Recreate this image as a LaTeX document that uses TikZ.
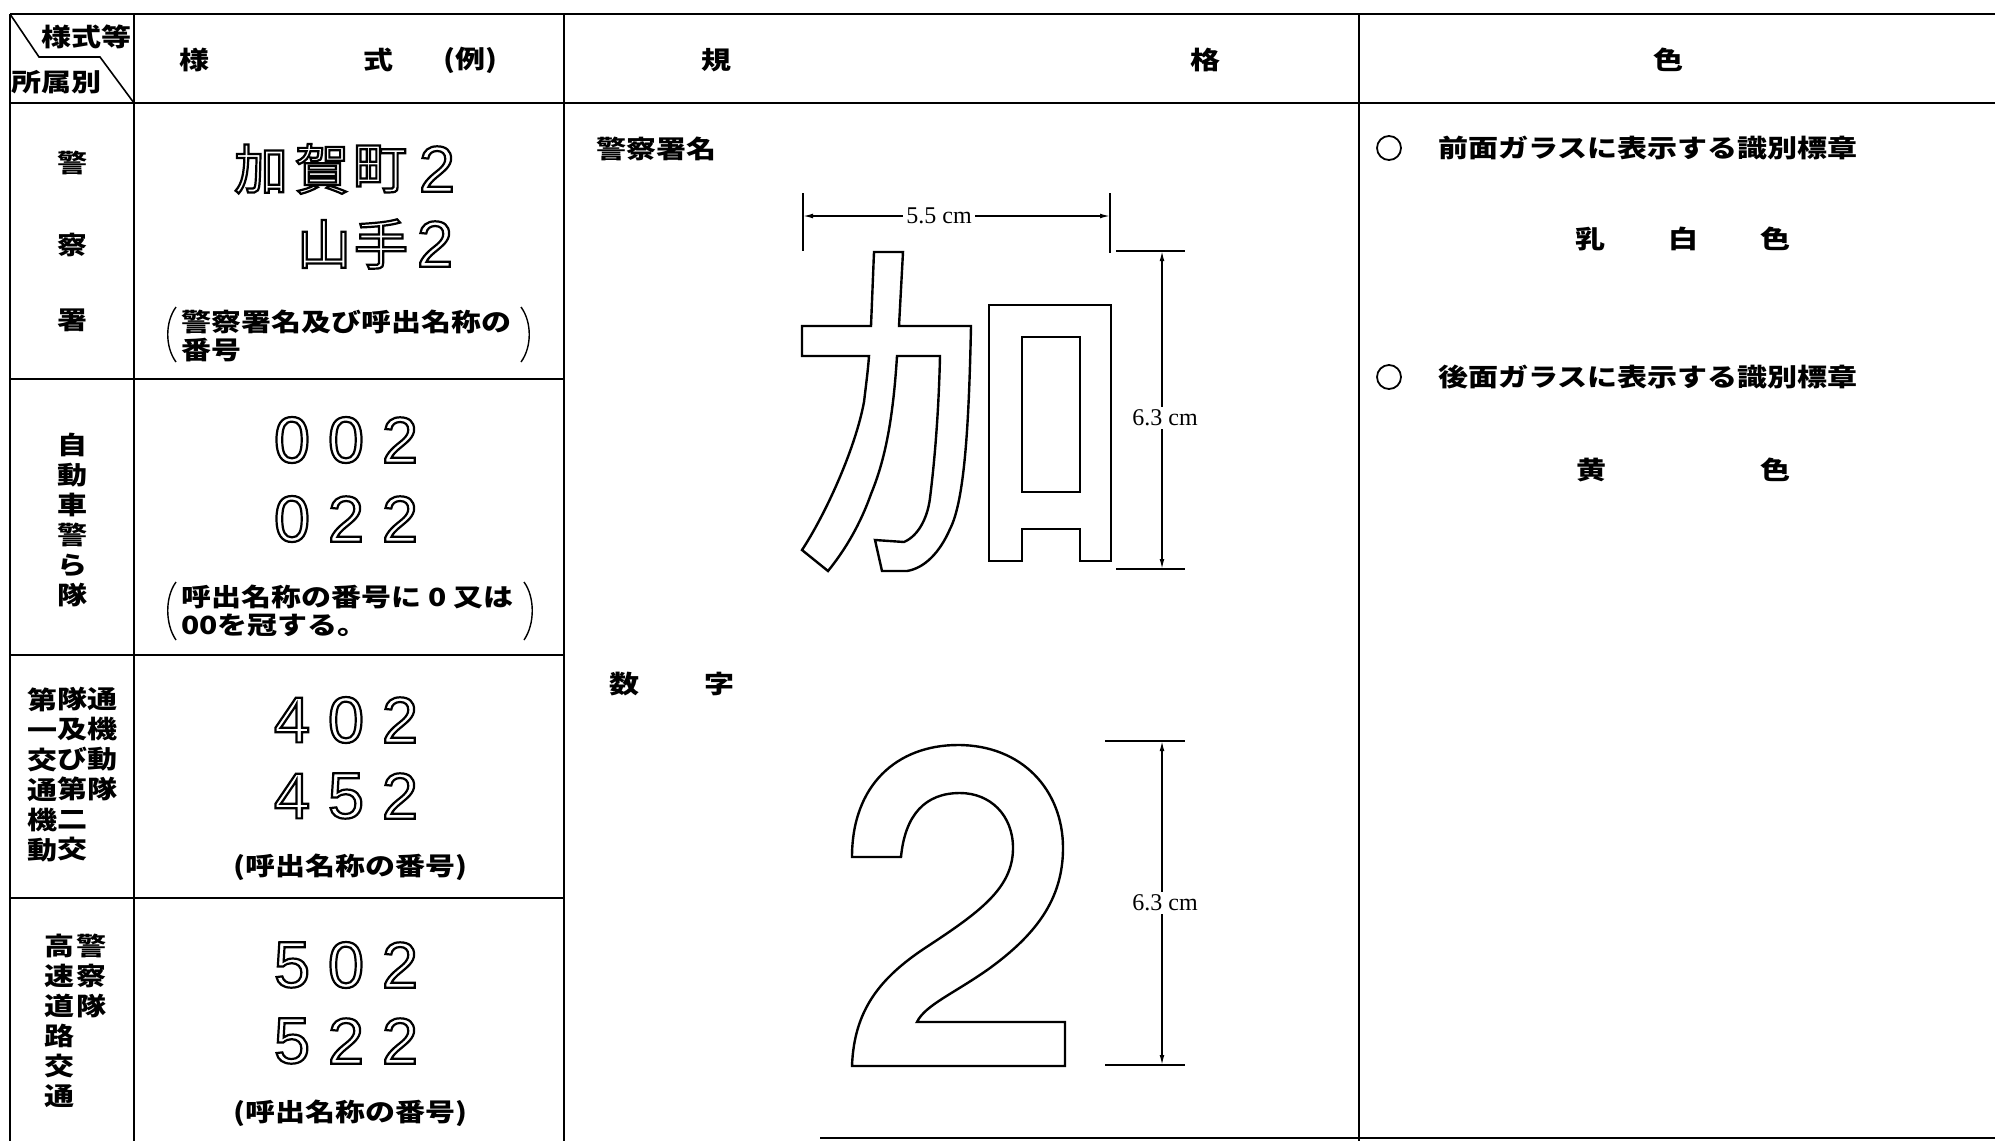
\documentclass[tikz,border=0pt]{standalone}
\usepackage{fontspec}
\setmainfont{Noto Sans CJK JP}[FakeStretch=1.2]
\newfontfamily\jpn{Noto Sans CJK JP}
\newfontfamily\helv{Liberation Sans}
\newfontfamily\tms{Liberation Serif}
\usetikzlibrary{arrows.meta}
\newcommand{\OL}[1]{\special{pdf:literal direct q 1 Tr 1.1 w}#1\special{pdf:literal direct Q}}
\tikzset{
  grid/.style={line width=1pt},
  glyph/.style={line width=1.2pt},
  jp/.style={inner sep=0pt, font=\bfseries\fontsize{12.5pt}{14pt}\selectfont},
  vcol/.style={inner sep=0pt, anchor=north, align=center, font=\bfseries\fontsize{12.5pt}{15pt}\selectfont},
  big/.style={inner sep=0pt, font=\jpn\fontsize{27pt}{27pt}\selectfont},
  dig/.style={inner sep=0pt, font=\helv\fontsize{32.5pt}{32.5pt}\selectfont},
  para/.style={inner sep=0pt, anchor=west, align=left, font=\bfseries\fontsize{12.5pt}{14pt}\selectfont},
  dimlab/.style={inner sep=1.5pt, fill=white, font=\tms\fontsize{12pt}{12pt}\selectfont},
  dimarr/.style={line width=0.7pt, {Latex[length=5pt,width=2.4pt]}-{Latex[length=5pt,width=2.4pt]}},
  dimline/.style={line width=0.8pt},
  paren/.style={line width=0.7pt}
}
\begin{document}
\begin{tikzpicture}[x=0.5pt,y=-0.5pt]
\useasboundingbox (0,0) rectangle (1995,1141);
% ---- table grid ----
\draw[grid] (10,14) -- (1995,14);
\draw[grid] (10,103) -- (1995,103);
\draw[grid] (10,14) -- (10,1141);
\draw[grid] (134,14) -- (134,1141);
\draw[grid] (564,14) -- (564,1141);
\draw[grid] (1359,14) -- (1359,1141);
\draw[grid] (10,379) -- (564,379);
\draw[grid] (10,655) -- (564,655);
\draw[grid] (10,898) -- (564,898);
\draw[grid] (820,1138) -- (1995,1138);
\draw[line width=0.8pt] (10,14) -- (39,57) -- (100,57) -- (134,103);
% ---- header ----
\node[jp] (h0a) at (86,37) {様式等};
\node[jp] (h0b) at (56,82) {所属別};
\node[jp] (h1a) at (194,60) {様};
\node[jp] (h1b) at (378,60) {式};
\node[jp] (h1c) at (470,60) {(例)};
\node[jp] (h2a) at (716,60) {規};
\node[jp] (h2b) at (1205,60) {格};
\node[jp] (h3) at (1668,60) {色};
% ---- column 1 ----
\node[jp] (k1) at (72,163) {警};
\node[jp] (k2) at (72,245) {察};
\node[jp] (k3) at (72,320) {署};
\node[vcol] (jd) at (72,433) {自\\動\\車\\警\\ら\\隊};
\node[vcol] (ka) at (42,687) {第\\一\\交\\通\\機\\動};
\node[vcol] (kb) at (72,687) {隊\\及\\び\\第\\二\\交};
\node[vcol] (kc) at (102,687) {通\\機\\動\\隊};
\node[vcol] (ha) at (59,934) {高\\速\\道\\路\\交\\通};
\node[vcol] (hb) at (91,934) {警\\察\\隊};
% ---- column 2 ----
\node[big] (s1) at (261,169) {\OL{加}};
\node[big] (s2) at (322,169) {\OL{賀}};
\node[big] (s3) at (380,169) {\OL{町}};
\node[dig] (s4) at (437,169) {\OL{2}};
\node[big] (t1) at (324,244) {\OL{山}};
\node[big] (t2) at (381,244) {\OL{手}};
\node[dig] (t3) at (435,244) {\OL{2}};
\node[para] (p1) at (181,336) {警察署名及び呼出名称の\\番号};
\draw[paren] (176,307) .. controls (165,322) and (165,347) .. (176,362);
\draw[paren] (521,307) .. controls (532,322) and (532,347) .. (521,362);
\node[dig] (a1) at (292,440) {\OL{0}};
\node[dig] (a2) at (346,440) {\OL{0}};
\node[dig] (a3) at (400,440) {\OL{2}};
\node[dig] (b1) at (292,519) {\OL{0}};
\node[dig] (b2) at (346,519) {\OL{2}};
\node[dig] (b3) at (400,519) {\OL{2}};
\node[para] (p2) at (181,611) {呼出名称の番号に 0 又は\\00を冠する。};
\draw[paren] (176,582) .. controls (165,597) and (165,624) .. (176,640);
\draw[paren] (524,582) .. controls (535,597) and (535,624) .. (524,640);
\node[dig] (c1) at (292,720) {\OL{4}};
\node[dig] (c2) at (346,720) {\OL{0}};
\node[dig] (c3) at (400,720) {\OL{2}};
\node[dig] (d1) at (292,796) {\OL{4}};
\node[dig] (d2) at (346,796) {\OL{5}};
\node[dig] (d3) at (400,796) {\OL{2}};
\node[jp] (p3) at (350,867) {(呼出名称の番号)};
\node[dig] (e1) at (292,965) {\OL{5}};
\node[dig] (e2) at (346,965) {\OL{0}};
\node[dig] (e3) at (400,965) {\OL{2}};
\node[dig] (f1) at (292,1041) {\OL{5}};
\node[dig] (f2) at (346,1041) {\OL{2}};
\node[dig] (f3) at (400,1041) {\OL{2}};
\node[jp] (p4) at (350,1113) {(呼出名称の番号)};
% ---- column 3 ----
\node[jp, anchor=west] (l1) at (596,149) {警察署名};
\node[jp] (l2a) at (624,684) {数};
\node[jp] (l2b) at (719,684) {字};
% 加 outline
\draw[glyph] (874,252) -- (903,252) -- (899,326) -- (971,326)
  .. controls (969,420) and (965,500) .. (950,529)
  .. controls (940,552) and (925,568) .. (907,571)
  -- (882,571) -- (875,540) -- (904,542)
  .. controls (920,535) and (928,515) .. (930,498)
  .. controls (936,450) and (939,400) .. (940,356)
  -- (897,356)
  .. controls (893,420) and (885,460) .. (871,494)
  .. controls (860,525) and (845,550) .. (828,571)
  -- (802,550)
  .. controls (825,515) and (855,450) .. (864,402)
  .. controls (866,385) and (868,370) .. (869,356)
  -- (802,356) -- (802,326) -- (871,326) -- cycle;
\draw[glyph] (989,305) -- (1111,305) -- (1111,561) -- (1080,561) -- (1080,529)
  -- (1022,529) -- (1022,561) -- (989,561) -- cycle;
\draw[glyph] (1022,337) rectangle (1080,492);
% 5.5 cm
\coordinate (wl) at (803,216);
\coordinate (wr) at (1110,216);
\draw[dimline] (803,193) -- (803,251);
\draw[dimline] (1110,193) -- (1110,253);
\draw[dimarr] (wl) -- (wr);
\node[dimlab] (wlab) at (939,216) {5.5 cm};
% 6.3 cm (加)
\coordinate (ht) at (1162,251);
\coordinate (hb) at (1162,569);
\draw[line width=1.4pt] (1116,251) -- (1185,251);
\draw[dimline] (1116,569) -- (1185,569);
\draw[dimarr] (ht) -- (hb);
\node[dimlab] (hlab) at (1165,418) {6.3 cm};
% 2 outline
\draw[glyph] (852,857) .. controls (852,785) and (897,745) .. (958,745)
  .. controls (1022,745) and (1063,790) .. (1063,848)
  .. controls (1063,900) and (1035,935) .. (990,968)
  .. controls (955,993) and (925,1005) .. (917,1022)
  -- (1065,1022) -- (1065,1066) -- (852,1066)
  .. controls (854,1010) and (880,978) .. (925,948)
  .. controls (980,912) and (1013,888) .. (1013,848)
  .. controls (1013,815) and (990,793) .. (960,793)
  .. controls (925,793) and (905,815) .. (901,857)
  -- cycle;
% 6.3 cm (2)
\coordinate (gt) at (1162,741);
\coordinate (gb) at (1162,1065);
\draw[dimline] (1105,741) -- (1185,741);
\draw[dimline] (1105,1065) -- (1185,1065);
\draw[dimarr] (gt) -- (gb);
\node[dimlab] (glab) at (1165,903) {6.3 cm};
% ---- column 4 ----
\draw[line width=0.9pt] (1389,148) circle[radius=12];
\node[jp, anchor=west] (m1) at (1438,148) {前面ガラスに表示する識別標章};
\node[jp] (m1a) at (1590,239) {乳};
\node[jp] (m1b) at (1683,239) {白};
\node[jp] (m1c) at (1775,239) {色};
\draw[line width=0.9pt] (1389,377) circle[radius=12];
\node[jp, anchor=west] (m2) at (1438,377) {後面ガラスに表示する識別標章};
\node[jp] (m2a) at (1591,470) {黄};
\node[jp] (m2b) at (1775,470) {色};
\end{tikzpicture}
\end{document}
